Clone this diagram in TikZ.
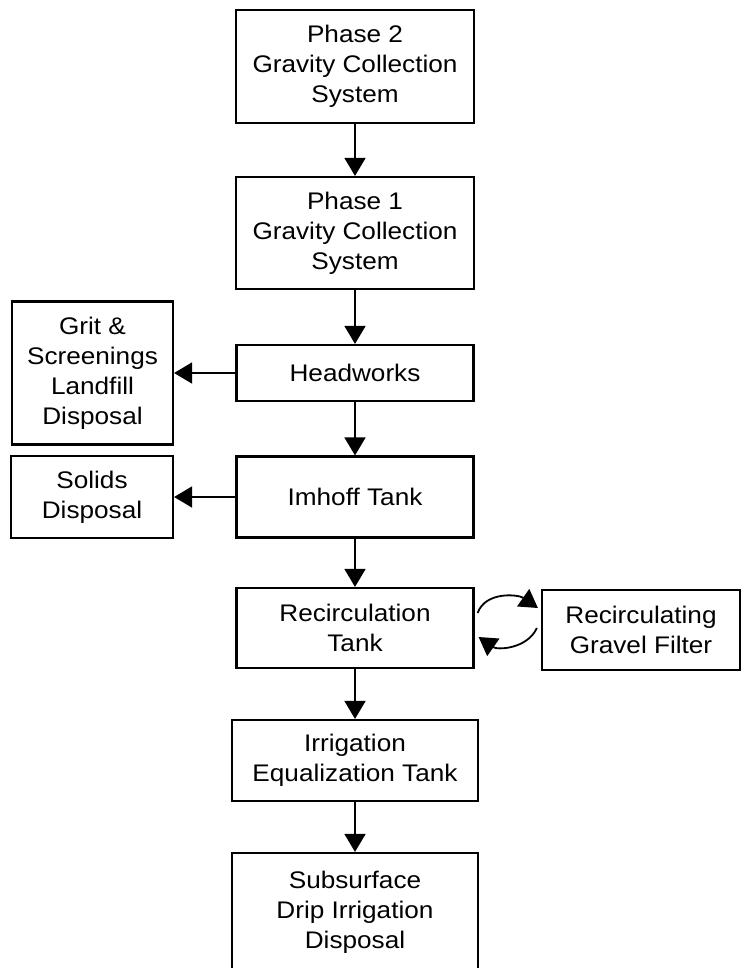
\documentclass[tikz,border=0pt]{standalone}
\usepackage{fontspec}
\setmainfont[FakeStretch=1.09]{Liberation Sans}
\usetikzlibrary{arrows.meta}
\tikzstyle{stage} = [rectangle, draw=black, line width=2.2pt, fill=white, align=center, inner sep=0pt, font=\fontsize{24}{30}\selectfont]
\tikzstyle{arrow} = [line width=1.8pt, -{Triangle[length=18pt,width=21pt]}]

\begin{document}
\begin{tikzpicture}[x=1pt, y=-1pt]
\clip (0,0) rectangle (741,968);
\node (phase2) [stage, minimum width=238pt, minimum height=113pt] at (355,66.5) {Phase 2\\Gravity Collection\\System};
\node (phase1) [stage, minimum width=238pt, minimum height=112pt] at (355,233) {Phase 1\\Gravity Collection\\System};
\node (head) [stage, minimum width=237pt, minimum height=56pt] at (355,373) {Headworks};
\node (grit) [stage, minimum width=161pt, minimum height=143pt] at (92.5,373) {Grit \&\\Screenings\\Landfill\\Disposal};
\node (imhoff) [stage, minimum width=237pt, minimum height=81pt] at (355,497) {Imhoff Tank};
\node (solids) [stage, minimum width=162pt, minimum height=82pt] at (92,497) {Solids\\Disposal};
\node (rtank) [stage, minimum width=237pt, minimum height=80pt] at (355,628) {Recirculation\\Tank};
\node (filter) [stage, minimum width=198pt, minimum height=80pt] at (641,630) {Recirculating\\Gravel Filter};
\node (equal) [stage, minimum width=246pt, minimum height=81pt] at (355,760.5) {Irrigation\\Equalization Tank};
\node (drip) [stage, minimum width=246pt, minimum height=118pt] at (355,912) {Subsurface\\Drip Irrigation\\Disposal};

\draw [arrow] (phase2) -- (phase1);
\draw [arrow] (phase1) -- (head);
\draw [arrow] (head) -- (grit);
\draw [arrow] (head) -- (imhoff);
\draw [arrow] (imhoff) -- (solids);
\draw [arrow] (imhoff) -- (rtank);
\draw [arrow] ([xshift=3pt,yshift=15pt]rtank.east) to[out=70, in=145] ([xshift=-3pt,yshift=22pt]filter.west);
\draw [arrow] ([xshift=-4pt,yshift=2pt]filter.west) to[out=-115, in=-35] ([xshift=4pt,yshift=-9pt]rtank.east);
\draw [arrow] (rtank) -- (equal);
\draw [arrow] (equal) -- (drip);

\end{tikzpicture}
\end{document}
